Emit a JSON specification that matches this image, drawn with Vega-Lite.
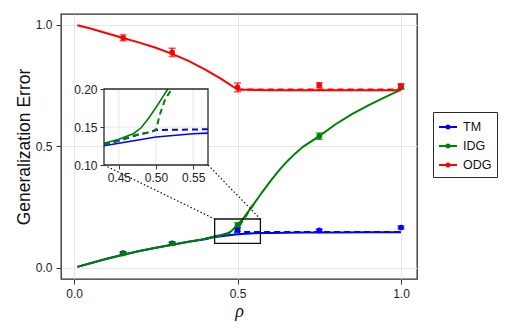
{
  "$schema": "https://vega.github.io/schema/vega-lite/v6.json",
  "width": 356,
  "height": 265,
  "autosize": {"type": "none"},
  "padding": {"left": 61, "top": 14, "right": 88, "bottom": 57},
  "background": "white",
  "config": {
    "font": "Liberation Sans",
    "view": {"stroke": "#2a2a2a", "strokeWidth": 1.3},
    "axis": {
      "labelFont": "Liberation Sans",
      "labelFontSize": 12,
      "labelColor": "#222222",
      "tickColor": "#333333",
      "tickSize": 5,
      "tickWidth": 1,
      "domain": false,
      "gridColor": "#e6e6e6",
      "gridWidth": 1,
      "titleFont": "Liberation Sans",
      "titleFontWeight": "normal",
      "titleColor": "#111111",
      "labelPadding": 4
    }
  },
  "datasets": {
    "solid": [
      {"series": "TM", "rho": 0.01, "err": 0.003},
      {"series": "TM", "rho": 0.05, "err": 0.018},
      {"series": "TM", "rho": 0.1, "err": 0.036},
      {"series": "TM", "rho": 0.15, "err": 0.053},
      {"series": "TM", "rho": 0.2, "err": 0.068},
      {"series": "TM", "rho": 0.25, "err": 0.082},
      {"series": "TM", "rho": 0.3, "err": 0.094},
      {"series": "TM", "rho": 0.35, "err": 0.106},
      {"series": "TM", "rho": 0.4, "err": 0.117},
      {"series": "TM", "rho": 0.43, "err": 0.1254},
      {"series": "TM", "rho": 0.45, "err": 0.1286},
      {"series": "TM", "rho": 0.5, "err": 0.1368},
      {"series": "TM", "rho": 0.55, "err": 0.1412},
      {"series": "TM", "rho": 0.57, "err": 0.142},
      {"series": "TM", "rho": 0.6, "err": 0.1428},
      {"series": "TM", "rho": 0.7, "err": 0.144},
      {"series": "TM", "rho": 0.8, "err": 0.1445},
      {"series": "TM", "rho": 0.9, "err": 0.145},
      {"series": "TM", "rho": 1.0, "err": 0.145},
      {"series": "IDG", "rho": 0.01, "err": 0.003},
      {"series": "IDG", "rho": 0.05, "err": 0.018},
      {"series": "IDG", "rho": 0.1, "err": 0.036},
      {"series": "IDG", "rho": 0.15, "err": 0.053},
      {"series": "IDG", "rho": 0.2, "err": 0.068},
      {"series": "IDG", "rho": 0.25, "err": 0.082},
      {"series": "IDG", "rho": 0.3, "err": 0.094},
      {"series": "IDG", "rho": 0.35, "err": 0.106},
      {"series": "IDG", "rho": 0.4, "err": 0.118},
      {"series": "IDG", "rho": 0.43, "err": 0.1286},
      {"series": "IDG", "rho": 0.45, "err": 0.134},
      {"series": "IDG", "rho": 0.47, "err": 0.1415},
      {"series": "IDG", "rho": 0.48, "err": 0.149},
      {"series": "IDG", "rho": 0.49, "err": 0.1616},
      {"series": "IDG", "rho": 0.5, "err": 0.1756},
      {"series": "IDG", "rho": 0.51, "err": 0.191},
      {"series": "IDG", "rho": 0.516, "err": 0.2},
      {"series": "IDG", "rho": 0.53, "err": 0.225},
      {"series": "IDG", "rho": 0.55, "err": 0.262},
      {"series": "IDG", "rho": 0.575, "err": 0.31},
      {"series": "IDG", "rho": 0.6, "err": 0.355},
      {"series": "IDG", "rho": 0.625, "err": 0.397},
      {"series": "IDG", "rho": 0.65, "err": 0.435},
      {"series": "IDG", "rho": 0.675, "err": 0.468},
      {"series": "IDG", "rho": 0.7, "err": 0.497},
      {"series": "IDG", "rho": 0.75, "err": 0.541},
      {"series": "IDG", "rho": 0.8, "err": 0.59},
      {"series": "IDG", "rho": 0.85, "err": 0.632},
      {"series": "IDG", "rho": 0.9, "err": 0.668},
      {"series": "IDG", "rho": 0.95, "err": 0.701},
      {"series": "IDG", "rho": 1.0, "err": 0.733},
      {"series": "ODG", "rho": 0.01, "err": 0.998},
      {"series": "ODG", "rho": 0.05, "err": 0.984},
      {"series": "ODG", "rho": 0.1, "err": 0.965},
      {"series": "ODG", "rho": 0.15, "err": 0.945},
      {"series": "ODG", "rho": 0.2, "err": 0.926},
      {"series": "ODG", "rho": 0.25, "err": 0.905},
      {"series": "ODG", "rho": 0.3, "err": 0.88},
      {"series": "ODG", "rho": 0.35, "err": 0.851},
      {"series": "ODG", "rho": 0.4, "err": 0.816},
      {"series": "ODG", "rho": 0.45, "err": 0.777},
      {"series": "ODG", "rho": 0.5, "err": 0.733},
      {"series": "ODG", "rho": 0.6, "err": 0.73},
      {"series": "ODG", "rho": 0.8, "err": 0.73},
      {"series": "ODG", "rho": 1.0, "err": 0.73}
    ],
    "dashed": [
      {"series": "TM", "rho": 0.4, "err": 0.118},
      {"series": "TM", "rho": 0.43, "err": 0.127},
      {"series": "TM", "rho": 0.45, "err": 0.132},
      {"series": "TM", "rho": 0.474, "err": 0.1395},
      {"series": "TM", "rho": 0.49, "err": 0.143},
      {"series": "TM", "rho": 0.5, "err": 0.146},
      {"series": "TM", "rho": 0.57, "err": 0.147},
      {"series": "TM", "rho": 0.6, "err": 0.147},
      {"series": "TM", "rho": 1.0, "err": 0.147},
      {"series": "IDG", "rho": 0.4, "err": 0.118},
      {"series": "IDG", "rho": 0.43, "err": 0.127},
      {"series": "IDG", "rho": 0.45, "err": 0.132},
      {"series": "IDG", "rho": 0.474, "err": 0.1395},
      {"series": "IDG", "rho": 0.49, "err": 0.143},
      {"series": "IDG", "rho": 0.5, "err": 0.146},
      {"series": "IDG", "rho": 0.505, "err": 0.166},
      {"series": "IDG", "rho": 0.512, "err": 0.1855},
      {"series": "IDG", "rho": 0.521, "err": 0.2},
      {"series": "IDG", "rho": 0.53, "err": 0.222},
      {"series": "IDG", "rho": 0.55, "err": 0.262},
      {"series": "ODG", "rho": 0.5, "err": 0.733},
      {"series": "ODG", "rho": 1.0, "err": 0.733}
    ],
    "sim": [
      {"series": "TM", "rho": 0.15, "err": 0.06, "lo": 0.055, "hi": 0.065},
      {"series": "TM", "rho": 0.3, "err": 0.1, "lo": 0.095, "hi": 0.105},
      {"series": "TM", "rho": 0.5, "err": 0.157, "lo": 0.149, "hi": 0.165},
      {"series": "TM", "rho": 0.75, "err": 0.153, "lo": 0.148, "hi": 0.158},
      {"series": "TM", "rho": 1.0, "err": 0.165, "lo": 0.159, "hi": 0.171},
      {"series": "IDG", "rho": 0.15, "err": 0.058, "lo": 0.053, "hi": 0.063},
      {"series": "IDG", "rho": 0.3, "err": 0.099, "lo": 0.094, "hi": 0.104},
      {"series": "IDG", "rho": 0.5, "err": 0.175, "lo": 0.165, "hi": 0.185},
      {"series": "IDG", "rho": 0.75, "err": 0.541, "lo": 0.528, "hi": 0.554},
      {"series": "IDG", "rho": 1.0, "err": 0.744, "lo": 0.734, "hi": 0.754},
      {"series": "ODG", "rho": 0.15, "err": 0.946, "lo": 0.934, "hi": 0.958},
      {"series": "ODG", "rho": 0.3, "err": 0.886, "lo": 0.869, "hi": 0.903},
      {"series": "ODG", "rho": 0.5, "err": 0.742, "lo": 0.724, "hi": 0.76},
      {"series": "ODG", "rho": 0.75, "err": 0.751, "lo": 0.741, "hi": 0.761},
      {"series": "ODG", "rho": 1.0, "err": 0.747, "lo": 0.737, "hi": 0.757}
    ],
    "box": [{"x1": 0.43, "x2": 0.57, "y1": 0.1, "y2": 0.2}],
    "connectors": [
      {"x1": 0.0915, "y1": 0.4223, "x2": 0.43, "y2": 0.2},
      {"x1": 0.4097, "y1": 0.4223, "x2": 0.57, "y2": 0.2}
    ],
    "gridX": [{"v": 0.45}, {"v": 0.5}, {"v": 0.55}],
    "gridY": [{"v": 0.15}]
  },
  "resolve": {"scale": {"x": "independent", "y": "independent"}},
  "layer": [
    {
      "layer": [
        {
          "data": {"name": "solid"},
          "mark": {"type": "line", "strokeWidth": 2},
          "encoding": {
            "x": {
              "field": "rho", "type": "quantitative", "title": "ρ",
              "scale": {"domain": [-0.04, 1.049], "nice": false, "zero": false},
              "axis": {"values": [0, 0.5, 1], "format": ".1f", "title": "ρ", "titleFont": "Liberation Serif", "titleFontStyle": "italic", "titleFontSize": 18, "titlePadding": 3, "orient": "bottom"}
            },
            "y": {
              "field": "err", "type": "quantitative", "title": "Generalization Error",
              "scale": {"domain": [-0.047, 1.044], "nice": false, "zero": false},
              "axis": {"values": [0, 0.5, 1], "format": ".1f", "title": "Generalization Error", "titleFontSize": 17.5, "titlePadding": 2, "orient": "left"}
            },
            "color": {
              "field": "series", "type": "nominal",
              "scale": {"domain": ["TM", "IDG", "ODG"], "range": ["#0000ff", "#008000", "#ff0000"]},
              "legend": {
                "title": null,
                "orient": "none",
                "legendX": 372,
                "legendY": 98,
                "strokeColor": "#2a2a2a",
                "fillColor": "white",
                "padding": 5,
                "symbolType": "M-1,0H1M-0.18,0A0.18,0.18,0,1,0,0.18,0A0.18,0.18,0,1,0,-0.18,0Z",
                "symbolSize": 324,
                "symbolStrokeWidth": 2,
                "labelFontSize": 12.5,
                "labelFont": "Liberation Sans",
                "labelColor": "#111111",
                "labelOffset": 5,
                "rowPadding": 2,
                "encode": {"symbols": {"update": {"fill": {"scale": "color", "field": "value"}, "fillOpacity": {"value": 1}, "opacity": {"value": 1}}}}
              }
            }
          }
        },
        {
          "data": {"name": "dashed"},
          "mark": {"type": "line", "strokeWidth": 2, "strokeDash": [6, 4]},
          "encoding": {
            "x": {"field": "rho", "type": "quantitative", "title": "ρ"},
            "y": {"field": "err", "type": "quantitative", "title": "Generalization Error"},
            "color": {"field": "series", "type": "nominal"}
          }
        },
        {
          "data": {"name": "sim"},
          "mark": {"type": "errorbar", "ticks": {"size": 7, "thickness": 1.5}, "thickness": 1.5},
          "encoding": {
            "x": {"field": "rho", "type": "quantitative", "title": "ρ"},
            "y": {"field": "lo", "type": "quantitative", "title": "Generalization Error"},
            "y2": {"field": "hi"},
            "color": {"field": "series", "type": "nominal"}
          }
        },
        {
          "data": {"name": "sim"},
          "mark": {"type": "point", "filled": true, "size": 32, "opacity": 1},
          "encoding": {
            "x": {"field": "rho", "type": "quantitative", "title": "ρ"},
            "y": {"field": "err", "type": "quantitative", "title": "Generalization Error"},
            "color": {"field": "series", "type": "nominal"}
          }
        },
        {
          "data": {"name": "box"},
          "mark": {"type": "rect", "fillOpacity": 0, "stroke": "#111111", "strokeWidth": 1.3},
          "encoding": {
            "x": {"field": "x1", "type": "quantitative", "title": "ρ"},
            "x2": {"field": "x2"},
            "y": {"field": "y1", "type": "quantitative", "title": "Generalization Error"},
            "y2": {"field": "y2"}
          }
        },
        {
          "data": {"name": "connectors"},
          "mark": {"type": "rule", "color": "#111111", "strokeWidth": 1.2, "strokeDash": [1.5, 2.2]},
          "encoding": {
            "x": {"field": "x1", "type": "quantitative", "title": "ρ"},
            "x2": {"field": "x2"},
            "y": {"field": "y1", "type": "quantitative", "title": "Generalization Error"},
            "y2": {"field": "y2"}
          }
        }
      ]
    },
    {
      "layer": [
        {
          "data": {"name": "box"},
          "mark": {"type": "rect", "fill": "white", "strokeWidth": 0},
          "encoding": {
            "x": {
              "field": "x1", "type": "quantitative",
              "scale": {"domain": [0.43, 0.57], "range": [43, 147], "nice": false, "zero": false},
              "axis": {"orient": "bottom", "offset": -114, "values": [0.45, 0.5, 0.55], "format": ".2f", "grid": false, "title": null, "zindex": 1, "tickSize": 4, "labelPadding": 3}
            },
            "x2": {"field": "x2"},
            "y": {
              "field": "y1", "type": "quantitative",
              "scale": {"domain": [0.1, 0.2], "range": [151, 75], "nice": false, "zero": false},
              "axis": {"orient": "left", "offset": -43, "values": [0.1, 0.15, 0.2], "format": ".2f", "grid": false, "title": null, "zindex": 1, "tickSize": 4, "labelPadding": 3}
            },
            "y2": {"field": "y2"}
          }
        },
        {
          "data": {"name": "gridX"},
          "mark": {"type": "rule", "color": "#e6e6e6", "strokeWidth": 1},
          "encoding": {
            "x": {"field": "v", "type": "quantitative"},
            "y": {"datum": 0.1, "type": "quantitative"},
            "y2": {"datum": 0.2}
          }
        },
        {
          "data": {"name": "gridY"},
          "mark": {"type": "rule", "color": "#e6e6e6", "strokeWidth": 1},
          "encoding": {
            "y": {"field": "v", "type": "quantitative"},
            "x": {"datum": 0.43, "type": "quantitative"},
            "x2": {"datum": 0.57}
          }
        },
        {
          "data": {"name": "solid"},
          "transform": [{"filter": "datum.rho >= 0.43 && datum.rho <= 0.57 && datum.err <= 0.2"}],
          "mark": {"type": "line", "strokeWidth": 1.6},
          "encoding": {
            "x": {"field": "rho", "type": "quantitative"},
            "y": {"field": "err", "type": "quantitative"},
            "color": {"field": "series", "type": "nominal"}
          }
        },
        {
          "data": {"name": "dashed"},
          "transform": [{"filter": "datum.rho >= 0.43 && datum.rho <= 0.57 && datum.err <= 0.2"}],
          "mark": {"type": "line", "strokeWidth": 2, "strokeDash": [6, 4]},
          "encoding": {
            "x": {"field": "rho", "type": "quantitative"},
            "y": {"field": "err", "type": "quantitative"},
            "color": {"field": "series", "type": "nominal"}
          }
        },
        {
          "data": {"name": "box"},
          "mark": {"type": "rect", "fillOpacity": 0, "stroke": "#2a2a2a", "strokeWidth": 1.3},
          "encoding": {
            "x": {"field": "x1", "type": "quantitative"},
            "x2": {"field": "x2"},
            "y": {"field": "y1", "type": "quantitative"},
            "y2": {"field": "y2"}
          }
        }
      ]
    }
  ]
}
